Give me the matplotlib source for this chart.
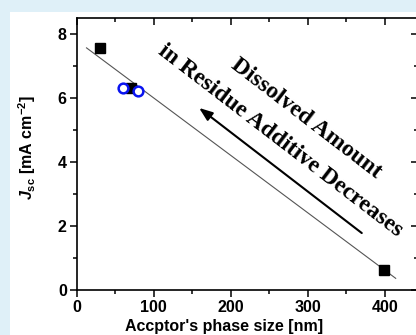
import matplotlib
matplotlib.use("Agg")
import matplotlib.pyplot as plt
from matplotlib.patches import Rectangle
from matplotlib.ticker import MultipleLocator
import numpy as np

# data
sq_x = [30, 71, 399]
sq_y = [7.55, 6.32, 0.62]
circ_x = [60, 80]
circ_y = [6.30, 6.22]
fit_x = [13, 414]
fit_slope = -0.01796
fit_intercept = 7.80
arrow_start = (370, 1.78)
arrow_end = (159, 5.69)
text_line1 = "Dissolved Amount"
text_line2 = "in Residue Additive Decreases"

plt.rcParams['font.family'] = ['Liberation Sans', 'DejaVu Sans']
plt.rcParams['mathtext.fontset'] = 'custom'
plt.rcParams['mathtext.rm'] = 'Liberation Sans:bold'
plt.rcParams['mathtext.it'] = 'Liberation Sans:italic:bold'
plt.rcParams['mathtext.bf'] = 'Liberation Sans:bold'

W, H = 416, 335
fig = plt.figure(figsize=(W/100, H/100), dpi=100, facecolor='#dff0f8')
fig.patches.append(Rectangle((10/W, 0), 1, 1 - 12/H, transform=fig.transFigure,
                             facecolor='white', edgecolor='none', zorder=-10))

px_per_unit = 0.771
xmax = 443
ax = fig.add_axes([76.5/W, 45/H, xmax*px_per_unit/W, 272/H])
ax.set_facecolor('white')
ax.set_xlim(0, xmax)
ax.set_ylim(0, 8.5)

fx = np.array(fit_x, dtype=float)
ax.plot(fx, fit_intercept + fit_slope*fx, color='#555555', lw=0.8, zorder=2)
ax.plot(sq_x, sq_y, 's', color='black', ms=7.5, zorder=3)
ax.plot(circ_x, circ_y, 'o', mfc='white', mec='#0a14f0', mew=1.8, ms=7, zorder=4)

ax.annotate('', xy=arrow_end, xytext=arrow_start,
            arrowprops=dict(arrowstyle='-|>,head_length=0.8,head_width=0.3',
                            color='black', lw=1.5, shrinkA=0, shrinkB=0))

rot = -37.5
tfont = dict(family=['Liberation Serif'], weight='bold', fontsize=17,
             rotation=rot, rotation_mode='anchor', ha='center', va='center')
fig.text(306/W, 1 - 119/H, text_line1, **tfont)
fig.text(280/W, 1 - 141/H, text_line2, **tfont)

ax.xaxis.set_major_locator(MultipleLocator(100))
ax.xaxis.set_minor_locator(MultipleLocator(50))
ax.yaxis.set_major_locator(MultipleLocator(2))
ax.yaxis.set_minor_locator(MultipleLocator(1))
ax.tick_params(which='both', direction='out', width=1.1, labelsize=11.5, pad=2,
               top=True, right=True)
ax.tick_params(which='major', length=5)
ax.tick_params(which='minor', length=3)
for lab in ax.get_xticklabels() + ax.get_yticklabels():
    lab.set_fontweight('bold')
for t in ax.xaxis.get_major_ticks() + ax.xaxis.get_minor_ticks():
    t.tick2line.set_marker(3)  # TICKDOWN
for t in ax.yaxis.get_major_ticks() + ax.yaxis.get_minor_ticks():
    t.tick2line.set_marker(0)  # TICKLEFT
for s in ax.spines.values():
    s.set_linewidth(1.2)

ax.set_xlabel("Accptor's phase size [nm]", fontsize=11.5, fontweight='bold', labelpad=0)
ax.xaxis.set_label_coords((224 - 76.5) / (xmax*px_per_unit), -(326 - 290) / 272)
ax.xaxis.label.set_va('center')
ax.set_ylabel(r"$J_{\mathrm{sc}}$ [mA cm$^{\mathrm{-2}}$]", fontsize=11.5, fontweight='bold')
ax.yaxis.set_label_coords(-(76.5 - 27) / (xmax*px_per_unit), (290 - 148) / 272)
ax.yaxis.label.set_va('center')

fig.savefig('out.png', dpi=100, facecolor=fig.get_facecolor())
